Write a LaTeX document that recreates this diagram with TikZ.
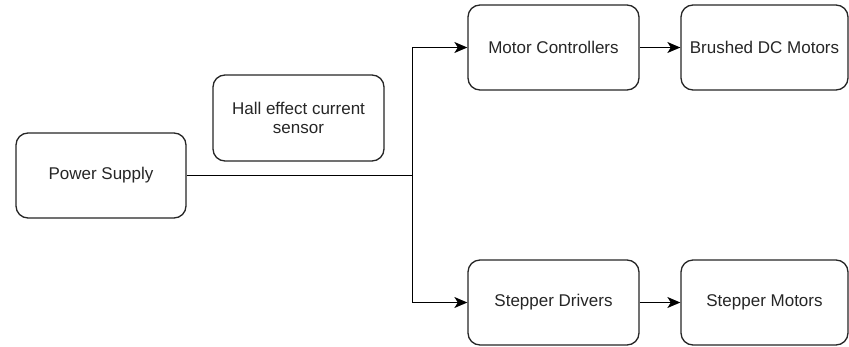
\documentclass[tikz,border=0pt]{standalone}
\usepackage{fontspec}
\setmainfont{Liberation Sans}
\usetikzlibrary{arrows.meta}
\begin{document}
\begin{tikzpicture}[x=1pt,y=-1pt,
  blk/.style={draw=black!85,line width=1.3pt,rounded corners=12pt,fill=white,font=\fontsize{17}{19.5}\selectfont,text=black!85,align=center},
  conn/.style={draw=black,line width=1.3pt},
  arr/.style={conn,-{Stealth[length=13pt,width=11pt,inset=3.5pt]}}]
\useasboundingbox (0,0) rectangle (849,346);
\node[blk,minimum width=170pt,minimum height=85pt] (ps) at (101,175.5) {Power Supply};
\node[blk,minimum width=171pt,minimum height=86pt] (hall) at (298.5,118) {Hall effect current\\sensor};
\node[blk,minimum width=171pt,minimum height=85pt] (mc) at (553.5,47.5) {Motor Controllers};
\node[blk,minimum width=167pt,minimum height=85pt] (bdc) at (764.5,47.5) {Brushed DC Motors};
\node[blk,minimum width=171pt,minimum height=85pt] (sd) at (553.5,302.5) {Stepper Drivers};
\node[blk,minimum width=167pt,minimum height=85pt] (sm) at (764.5,302.5) {Stepper Motors};
\coordinate (j) at (412.5,175.5);
\draw[conn] (ps.east) -- (j);
\draw[arr] (j) |- (mc.west);
\draw[arr] (j) |- (sd.west);
\draw[arr] (mc.east) -- (bdc.west);
\draw[arr] (sd.east) -- (sm.west);
\end{tikzpicture}
\end{document}
